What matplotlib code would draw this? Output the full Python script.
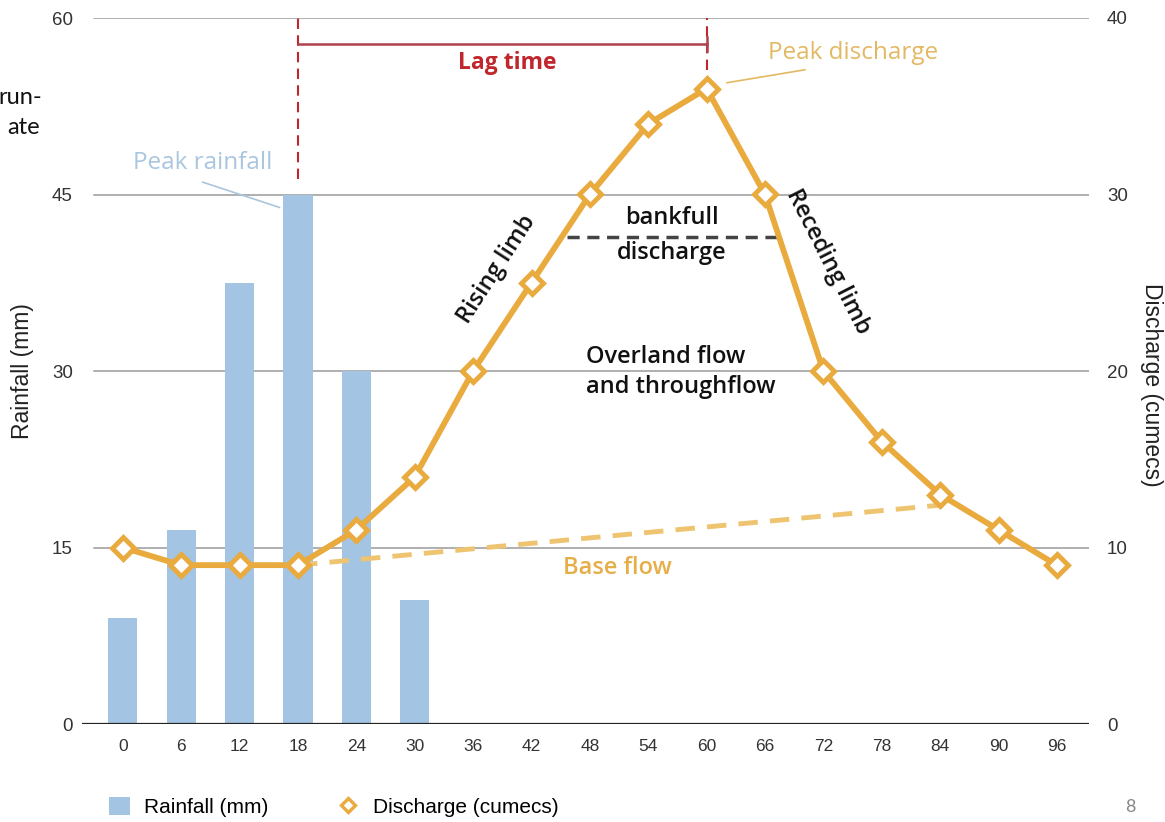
import matplotlib
matplotlib.use("Agg")
import matplotlib.pyplot as plt
from matplotlib.patches import Patch
from matplotlib.lines import Line2D

# ---- data ----
hours = [0, 6, 12, 18, 24, 30, 36, 42, 48, 54, 60, 66, 72, 78, 84, 90, 96]
rain_hours = [0, 6, 12, 18, 24, 30]
rainfall = [9, 16.5, 37.5, 45, 30, 10.5]
discharge = [10, 9, 9, 9, 11, 14, 20, 25, 30, 34, 36, 30, 20, 16, 13, 11, 9]
baseflow_x = [18, 84]
baseflow_y = [9, 12.4]
left_ticks = [0, 15, 30, 45, 60]
right_ticks = [0, 10, 20, 30, 40]

BLUE = "#A3C4E2"
ORANGE = "#E9AA3E"
LIGHT_OR = "#EEC470"
RED = "#C0272D"
DARKRED = "#B0404A"

W, H = 1165, 822
fig = plt.figure(figsize=(W / 100, H / 100), dpi=100)
ax = fig.add_axes([82 / W, 1 - 724 / H, (1089 - 82) / W, (724 - 18) / H])
ax2 = ax.twinx()

tickfont = "Liberation Sans"
annfont = "Open Sans"

ax.set_xlim(-4.2, 99.3)
ax.set_ylim(0, 60)
ax2.set_ylim(0, 40)

# gridlines
for t in left_ticks[1:]:
    ax.plot([-3, 99.3], [t, t], color="#9a9a9a", lw=1.1, zorder=0.5)
ax.axhline(0, color="#222222", lw=1.6, zorder=3)

ax.bar(rain_hours, rainfall, width=3.0, color=BLUE, zorder=1)

for a in (ax, ax2):
    for s in a.spines.values():
        s.set_visible(False)
    a.tick_params(length=0)

ax.set_xticks(hours)
ax.set_xticklabels([str(h) for h in hours], fontsize=12.5, color="#333333",
                   family=tickfont)
ax.tick_params(axis="x", pad=11)
ax.set_yticks(left_ticks)
ax.set_yticklabels([str(t) for t in left_ticks], fontsize=13.5, color="#333333",
                   family=tickfont)
ax.tick_params(axis="y", pad=6.5)
ax2.set_yticks(right_ticks)
ax2.set_yticklabels([str(t) for t in right_ticks], fontsize=13.5, color="#333333",
                    family=tickfont)
ax2.tick_params(axis="y", pad=13)

fig.text(23 / W, 1 - 371 / H, "Rainfall (mm)", fontsize=16.5, family=tickfont,
         color="#222222", rotation=90, ha="center", va="center")
fig.text(1152 / W, 1 - 385 / H, "Discharge (cumecs)", fontsize=16.5, family=tickfont,
         color="#222222", rotation=270, ha="center", va="center")

# base flow
ax2.plot(baseflow_x, baseflow_y, color=LIGHT_OR, lw=3.5, ls=(0, (4, 2.5)), zorder=2)
# discharge
ax2.plot(hours, discharge, color=ORANGE, lw=4.2, marker="D", ms=11,
         mfc="white", mec=ORANGE, mew=3.5, zorder=4)

# lag time
ax.plot([18, 18], [46.3, 60], color=RED, lw=1.5, ls=(0, (5, 3)), zorder=3)
ax.plot([60, 60], [55.6, 60], color=RED, lw=1.5, ls=(0, (5, 3)), zorder=3)
ax.plot([18, 60], [57.8, 57.8], color=DARKRED, lw=1.8, zorder=3)
ax.plot([60, 60], [57.2, 58.4], color=DARKRED, lw=1.8, zorder=3)
ax.text(39.5, 56.2, "Lag time", color=RED, fontsize=16.5, fontweight="bold",
        family=annfont, ha="center", va="center")

# peak rainfall
ax.text(8.2, 47.7, "Peak rainfall", color="#A9C6DE", fontsize=17.5,
        family=annfont, ha="center", va="center")
ax.plot([8.2, 16.1], [46.05, 43.9], color="#A9C6DE", lw=1.2, zorder=3)

# peak discharge
ax.text(75.0, 57.0, "Peak discharge", color="#E3B862", fontsize=17.5,
        family=annfont, ha="center", va="center")
ax.plot([62.1, 70.1], [54.5, 55.6], color="#E3B862", lw=1.2, zorder=3)

# limbs
ax.text(38.4, 38.6, "Rising limb", fontsize=17, family=annfont, fontweight="semibold",
        rotation=57, ha="center", va="center", color="#111111")
ax.text(72.5, 39.3, "Receding limb", fontsize=17, family=annfont, fontweight="semibold",
        rotation=-63, ha="center", va="center", color="#111111")

# bankfull
ax.text(56.4, 43.0, "bankfull", fontsize=17, family=annfont, fontweight="semibold",
        ha="center", va="center", color="#111111")
ax.text(56.4, 40.0, "discharge", fontsize=17, family=annfont, fontweight="semibold",
        ha="center", va="center", color="#111111")
ax.plot([45.6, 67.2], [41.4, 41.4], color="#444444", lw=2.5, ls=(0, (3.5, 2.2)),
        zorder=3)

ax.text(47.6, 31.2, "Overland flow", fontsize=17, family=annfont, fontweight="semibold",
        ha="left", va="center", color="#111111")
ax.text(47.6, 28.6, "and throughflow", fontsize=17, family=annfont,
        fontweight="semibold", ha="left", va="center", color="#111111")

ax.text(50.8, 13.3, "Base flow", fontsize=17, family=annfont, fontweight="semibold",
        ha="center", va="center", color="#E6AE48")

# cut-off slide text and page number
fig.text(42 / W, 1 - 98 / H, "run-", fontsize=17, family="Lato", ha="right",
         va="center", color="#111111")
fig.text(40 / W, 1 - 128 / H, "ate", fontsize=17, family="Lato", ha="right",
         va="center", color="#111111")
fig.text(1130 / W, 1 - 807 / H, "8", fontsize=13, family="Lato", ha="center",
         va="center", color="#888888")

# legend
handles = [Patch(facecolor=BLUE, edgecolor="none"),
           Line2D([], [], ls="none", marker="D", ms=7, mfc="white", mec=ORANGE, mew=2.4)]
fig.legend(handles, ["Rainfall (mm)", "Discharge (cumecs)"], loc="center left",
           bbox_to_anchor=(90 / W, 1 - 807 / H), ncol=2, frameon=False,
           prop={"family": tickfont, "size": 15}, handlelength=1.0, handleheight=1.0,
           handletextpad=0.7, columnspacing=3.3)

fig.savefig("out.png", dpi=100)
